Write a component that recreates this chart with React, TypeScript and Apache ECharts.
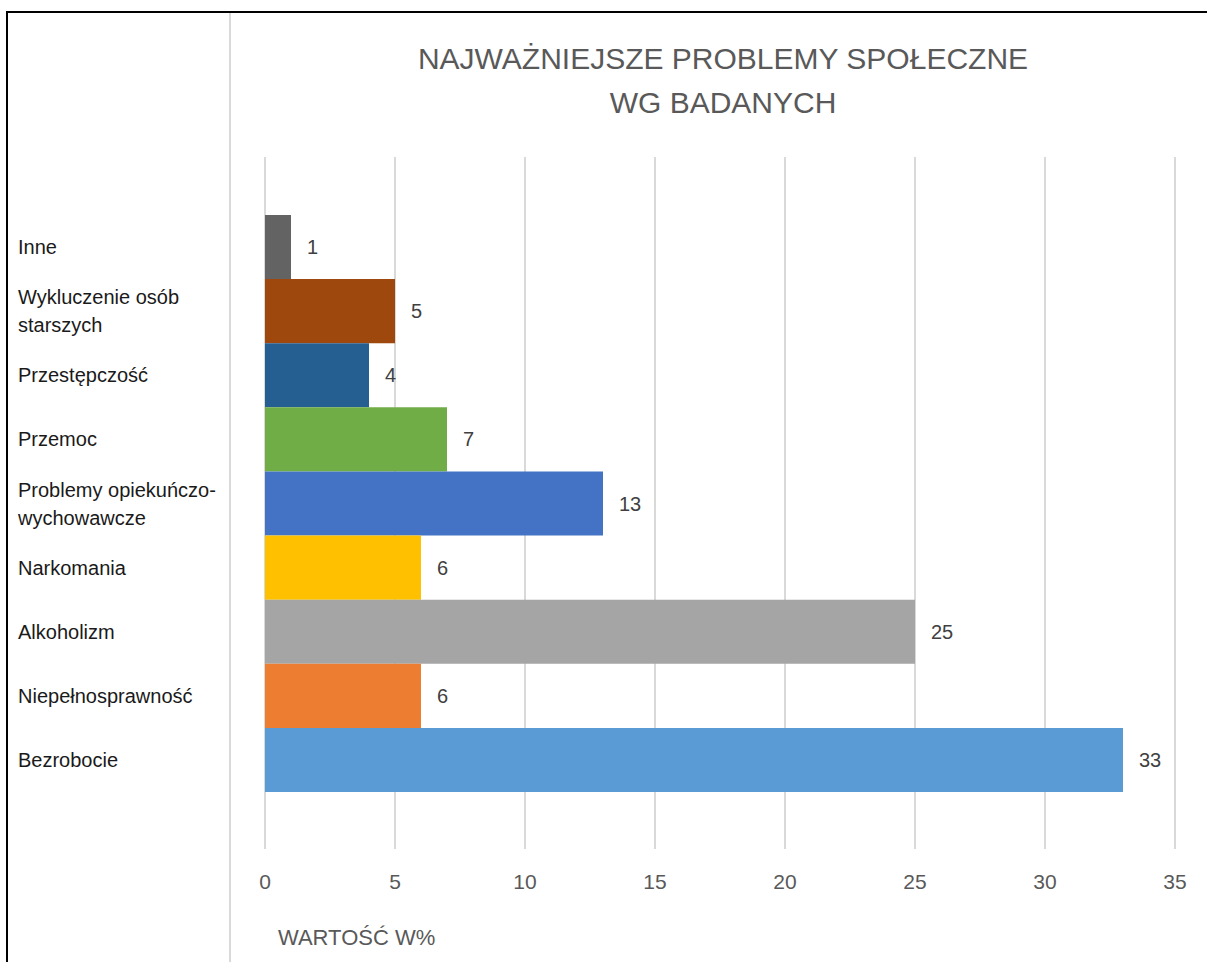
import React, { useEffect, useRef } from "react";
import * as echarts from "echarts";

const categories = [
  "Inne",
  "Wykluczenie osób\nstarszych",
  "Przestępczość",
  "Przemoc",
  "Problemy opiekuńczo-\nwychowawcze",
  "Narkomania",
  "Alkoholizm",
  "Niepełnosprawność",
  "Bezrobocie",
];
const values = [1, 5, 4, 7, 13, 6, 25, 6, 33];
const barColors = [
  "#636363",
  "#9E480E",
  "#255E91",
  "#70AD47",
  "#4472C4",
  "#FFC000",
  "#A5A5A5",
  "#ED7D31",
  "#5B9BD5",
];
const titleText = "NAJWAŻNIEJSZE PROBLEMY SPOŁECZNE\nWG BADANYCH";
const axisName = "WARTOŚĆ W%";

export default function App() {
  const ref = useRef<HTMLDivElement>(null);
  useEffect(() => {
    document.body.style.margin = "0";
    if (!ref.current) return;
    const chart = echarts.init(ref.current, null, { renderer: "svg" });
    const font = "'Liberation Sans', Arial, sans-serif";
    chart.setOption({
      animation: false,
      backgroundColor: "#ffffff",
      textStyle: { fontFamily: font },
      grid: [
        { left: 265, width: 910, top: 157, height: 692 },
        { left: 265, width: 910, top: 215, height: 577 },
      ],
      xAxis: [
        {
          gridIndex: 0,
          type: "value",
          min: 0,
          max: 35,
          interval: 5,
          axisLine: { show: false },
          axisTick: { show: false },
          splitLine: { show: true, lineStyle: { color: "#d9d9d9", width: 2 } },
          axisLabel: { color: "#595959", fontSize: 21, margin: 22, fontFamily: font },
        },
        {
          gridIndex: 1,
          type: "value",
          min: 0,
          max: 35,
          show: false,
          splitLine: { show: false },
        },
      ],
      yAxis: [
        {
          gridIndex: 0,
          type: "category",
          data: categories,
          show: false,
        },
        {
          gridIndex: 1,
          type: "category",
          data: categories,
          inverse: true,
          axisLine: { show: false },
          axisTick: { show: false },
          splitLine: { show: false },
          axisLabel: {
            align: "left",
            margin: 247,
            color: "#1a1a1a",
            fontSize: 20,
            lineHeight: 28,
            fontFamily: font,
          },
        },
      ],
      series: [
        {
          type: "bar",
          xAxisIndex: 1,
          yAxisIndex: 1,
          barWidth: "100%",
          data: values.map((v, i) => ({ value: v, itemStyle: { color: barColors[i] } })),
          label: {
            show: true,
            position: "right",
            distance: 16,
            color: "#404040",
            fontSize: 20,
            fontFamily: font,
          },
        },
      ],
      title: {
        text: axisName,
        left: 273,
        top: 921,
        textStyle: { color: "#595959", fontSize: 22, fontWeight: "normal", fontFamily: font },
      },
      graphic: [
        {
          type: "text",
          x: 723,
          y: 80,
          style: {
            text: titleText,
            align: "center",
            verticalAlign: "middle",
            fill: "#595959",
            fontSize: 30,
            lineHeight: 44,
            fontFamily: font,
          },
        },
        { type: "rect", shape: { x: 6, y: 11, width: 1201, height: 2 }, style: { fill: "#000" } },
        { type: "rect", shape: { x: 6, y: 11, width: 2, height: 951 }, style: { fill: "#000" } },
        { type: "rect", shape: { x: 229, y: 13, width: 2, height: 949 }, style: { fill: "#d9d9d9" } },
      ],
    });
    return () => chart.dispose();
  }, []);
  return <div ref={ref} style={{ width: 1207, height: 962 }} />;
}
